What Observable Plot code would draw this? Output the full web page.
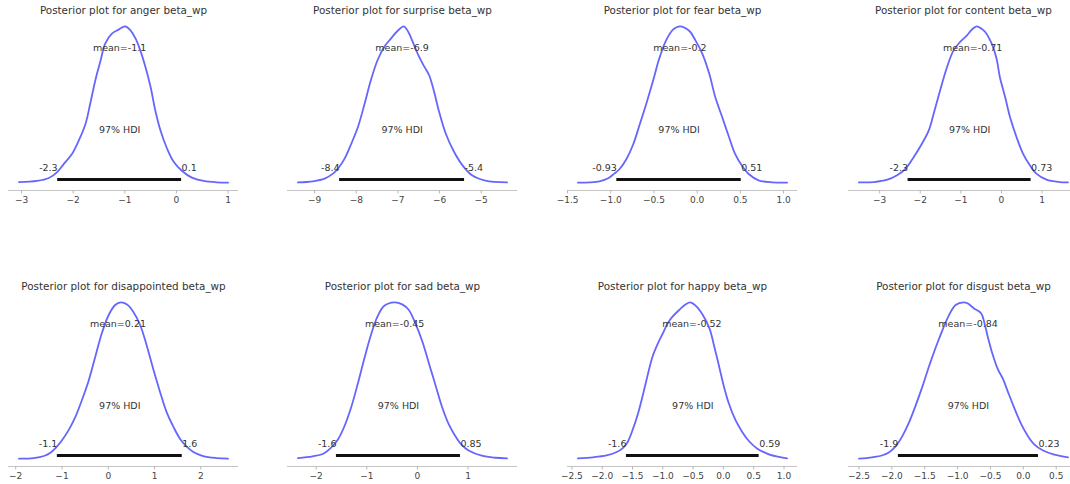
<!DOCTYPE html>
<html>
<head>
<meta charset="utf-8">
<script src="https://cdn.jsdelivr.net/npm/d3@7"></script>
<script src="https://cdn.jsdelivr.net/npm/@observablehq/plot@0.6"></script>
<style>
  html, body { margin: 0; padding: 0; background: #fff; }
  #fig { position: relative; width: 1070px; height: 484px; overflow: hidden; background: #fff; }
  .panel { position: absolute; width: 250px; }
  .panel svg { overflow: visible; max-width: none !important; width: 250px; }
</style>
</head>
<body>
<div id="fig"></div>
<script>
// ---- data ----
const emotions = ["anger", "surprise", "fear", "content", "disappointed", "sad", "happy", "disgust"];
const means    = [-1.1, -6.9, -0.2, -0.71, 0.21, -0.45, -0.52, -0.84];
const hdiLow   = [-2.3, -8.4, -0.93, -2.3, -1.1, -1.6, -1.6, -1.9];
const hdiHigh  = [0.1, -5.4, 0.51, 0.73, 1.6, 0.85, 0.59, 0.23];

// posterior density curves (x, relative density)
const angerX = [-3.05,-2.70,-2.47,-2.31,-2.18,-2.02,-1.89,-1.76,-1.67,-1.57,-1.47,-1.38,-1.25,-1.12,-0.99,-0.89,-0.79,-0.70,-0.60,-0.50,-0.41,-0.31,-0.18,-0.05,0.11,0.30,0.53,0.78,1.00];
const angerD = [0.004,0.011,0.03,0.068,0.12,0.185,0.27,0.377,0.505,0.655,0.78,0.89,0.953,0.979,1.0,0.974,0.921,0.846,0.74,0.612,0.463,0.335,0.217,0.132,0.075,0.032,0.011,0.002,0.0];

const surpriseX = [-9.40,-9.04,-8.76,-8.56,-8.44,-8.28,-8.12,-7.96,-7.80,-7.65,-7.49,-7.33,-7.17,-7.01,-6.86,-6.75,-6.61,-6.49,-6.37,-6.25,-6.13,-6.01,-5.85,-5.65,-5.45,-5.22,-4.90,-4.38];
const surpriseD = [0.002,0.009,0.026,0.058,0.09,0.154,0.249,0.356,0.505,0.655,0.783,0.868,0.921,0.970,1,0.964,0.878,0.804,0.744,0.687,0.58,0.452,0.313,0.196,0.111,0.047,0.013,0.002];

const fearX = [-1.38,-1.24,-1.13,-1.03,-0.96,-0.90,-0.82,-0.74,-0.67,-0.59,-0.51,-0.44,-0.36,-0.28,-0.20,-0.09,-0.02,0.06,0.14,0.21,0.29,0.37,0.44,0.52,0.60,0.71,0.87,1.04];
const fearD = [0,0.002,0.009,0.028,0.058,0.086,0.15,0.246,0.364,0.503,0.653,0.792,0.91,0.979,1,0.97,0.91,0.824,0.696,0.546,0.418,0.289,0.182,0.107,0.054,0.015,0.002,0];

const contentX = [-3.51,-3.14,-2.81,-2.57,-2.36,-2.16,-1.96,-1.79,-1.67,-1.51,-1.34,-1.18,-1.02,-0.85,-0.73,-0.61,-0.49,-0.40,-0.24,-0.12,-0.04,0.09,0.21,0.37,0.53,0.70,0.86,1.11,1.43,1.64];
const contentD = [0.002,0.004,0.019,0.047,0.09,0.164,0.249,0.335,0.441,0.591,0.74,0.846,0.9,0.942,0.979,1,0.985,0.964,0.889,0.793,0.676,0.548,0.42,0.292,0.186,0.111,0.058,0.019,0.004,0.002];

const disappointedX = [-1.93,-1.61,-1.39,-1.25,-1.14,-1.00,-0.85,-0.71,-0.57,-0.42,-0.28,-0.14,0.01,0.15,0.27,0.40,0.54,0.69,0.83,0.97,1.12,1.26,1.41,1.55,1.69,1.84,2.05,2.34,2.59];
const disappointedD = [0,0.004,0.017,0.038,0.068,0.118,0.186,0.267,0.374,0.502,0.652,0.801,0.919,0.983,1,0.987,0.94,0.855,0.726,0.577,0.427,0.299,0.203,0.128,0.079,0.043,0.017,0.004,0];

const sadX = [-2.36,-2.07,-1.87,-1.71,-1.57,-1.44,-1.31,-1.18,-1.05,-0.92,-0.79,-0.66,-0.46,-0.30,-0.17,-0.04,0.10,0.23,0.36,0.49,0.62,0.75,0.88,1.01,1.27,1.54,1.77];
const sadD = [0.004,0.015,0.03,0.069,0.123,0.209,0.327,0.477,0.639,0.789,0.908,0.976,1,0.987,0.951,0.865,0.746,0.606,0.467,0.327,0.219,0.144,0.086,0.052,0.019,0.006,0.002];

const happyX = [-2.40,-2.15,-1.93,-1.77,-1.66,-1.58,-1.50,-1.41,-1.33,-1.25,-1.17,-1.08,-1.00,-0.92,-0.84,-0.73,-0.62,-0.55,-0.45,-0.34,-0.23,-0.15,-0.07,0.01,0.09,0.20,0.31,0.42,0.56,0.75,0.92,1.05];
const happyD = [0.002,0.009,0.021,0.041,0.068,0.107,0.182,0.288,0.406,0.534,0.652,0.737,0.801,0.865,0.908,0.951,0.987,1,0.976,0.919,0.833,0.716,0.588,0.459,0.353,0.246,0.171,0.113,0.064,0.028,0.011,0.002];

const disgustX = [-2.50,-2.30,-2.14,-2.04,-1.94,-1.84,-1.74,-1.64,-1.53,-1.43,-1.33,-1.23,-1.13,-1.03,-0.91,-0.85,-0.75,-0.64,-0.59,-0.54,-0.47,-0.39,-0.31,-0.24,-0.14,-0.03,0.07,0.17,0.30,0.47,0.68];
const disgustD = [0,0.009,0.022,0.041,0.08,0.144,0.23,0.338,0.467,0.596,0.714,0.822,0.918,0.983,1,0.994,0.961,0.929,0.865,0.778,0.671,0.574,0.51,0.434,0.327,0.219,0.144,0.09,0.052,0.026,0.009];

// tick values
const angerTicks = [-3, -2, -1, 0, 1];
const surpriseTicks = [-9, -8, -7, -6, -5];
const fearTicks = [-1.5, -1.0, -0.5, 0.0, 0.5, 1.0];
const contentTicks = [-3, -2, -1, 0, 1];
const disappointedTicks = [-2, -1, 0, 1, 2];
const sadTicks = [-2, -1, 0, 1];
const happyTicks = [-2.5, -2.0, -1.5, -1.0, -0.5, 0.0, 0.5, 1.0];
const disgustTicks = [-2.5, -2.0, -1.5, -1.0, -0.5, 0.0, 0.5];

const curvesX = [angerX, surpriseX, fearX, contentX, disappointedX, sadX, happyX, disgustX];
const curvesD = [angerD, surpriseD, fearD, contentD, disappointedD, sadD, happyD, disgustD];
const ticksAll = [angerTicks, surpriseTicks, fearTicks, contentTicks, disappointedTicks, sadTicks, happyTicks, disgustTicks];

// ---- layout ----
const colLeft = [8, 287, 567, 848];   // left edge of each axes box
const rowTop = [18, 294];             // top edge of each axes box
const innerW = 230, innerH = 172;
const mL = 10, mR = 10, mT = 18, mB = 24;
const font = "'DejaVu Sans', 'Liberation Sans', sans-serif";

const fig = document.getElementById("fig");

emotions.forEach((emo, i) => {
  const xs = curvesX[i], ds = curvesD[i];
  const pts = xs.map((x, j) => ({x, d: ds[j]}));
  const ext = d3.extent(xs);
  const pad = 0.05 * (ext[1] - ext[0]);
  const yMax = d3.max(ds);
  const yLo = -0.05 * yMax, yHi = 1.05 * yMax;  // matplotlib margins
  const plotHeight = yHi;
  const ticks = ticksAll[i];
  const fmt = ticks.some(t => !Number.isInteger(t)) ? d3.format(".1f") : d3.format("d");

  const chart = Plot.plot({
    width: innerW + mL + mR,
    height: innerH + mT + mB,
    marginLeft: mL, marginRight: mR, marginTop: mT, marginBottom: mB,
    style: {fontFamily: font, fontSize: "9px", background: "transparent", color: "#444", maxWidth: "none"},
    x: {domain: [ext[0] - pad, ext[1] + pad]},
    y: {domain: [yLo, yHi], axis: null},
    marks: [
      Plot.ruleY([yLo], {stroke: "#c4c4c4", strokeWidth: 1}),
      Plot.axisX(ticks, {tickSize: 3.5, tickPadding: 2.5, tickFormat: fmt, stroke: "#b8b8b8", fill: "#444", fontSize: 9, label: null}),
      Plot.line(pts, {x: "x", y: "d", stroke: "#6666ff", strokeWidth: 1.8, curve: "catmull-rom"}),
      Plot.ruleY([plotHeight * 0.02], {x1: hdiLow[i], x2: hdiHigh[i], stroke: "#111", strokeWidth: 3, strokeLinecap: "butt"}),
      Plot.text([hdiLow[i]], {x: d => d, y: () => plotHeight * 0.07, text: d => String(d), textAnchor: "end", lineAnchor: "bottom", fontSize: 9.5, fill: "#333"}),
      Plot.text([hdiHigh[i]], {x: d => d, y: () => plotHeight * 0.07, text: d => String(d), textAnchor: "start", lineAnchor: "bottom", fontSize: 9.5, fill: "#333"}),
      Plot.text([(hdiLow[i] + hdiHigh[i]) / 2], {x: d => d, y: () => plotHeight * 0.3, text: () => "97% HDI", lineAnchor: "bottom", fontSize: 9.5, fill: "#333"}),
      Plot.text([means[i]], {x: d => d, y: () => plotHeight * 0.8, text: d => `mean=${d}`, lineAnchor: "bottom", fontSize: 9.5, fill: "#333"}),
      Plot.text([`Posterior plot for ${emo} beta_wp`], {frameAnchor: "top", dy: -8, lineAnchor: "middle", fontSize: 10.4, fill: "#333"})
    ]
  });

  const div = document.createElement("div");
  div.className = "panel";
  div.style.left = (colLeft[i % 4] - mL) + "px";
  div.style.top = (rowTop[Math.floor(i / 4)] - mT) + "px";
  div.appendChild(chart);
  fig.appendChild(div);
});
</script>
</body>
</html>
